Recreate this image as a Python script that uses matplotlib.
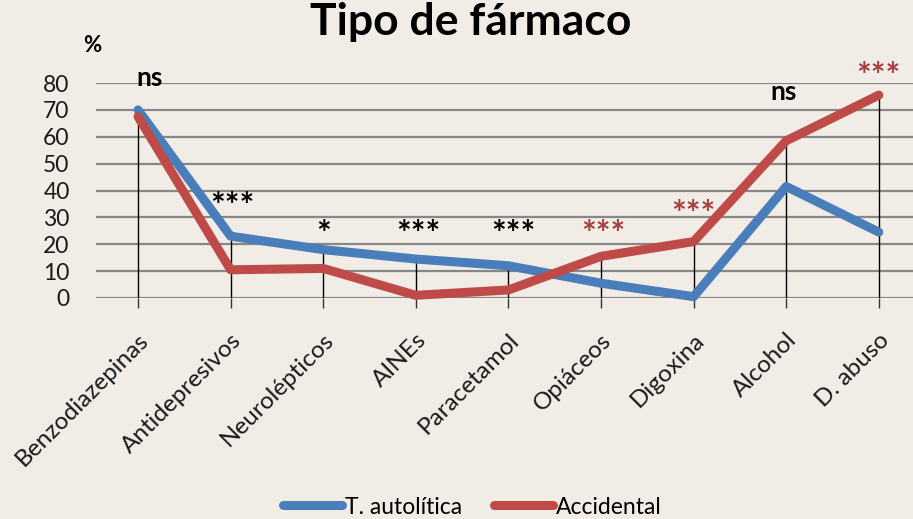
import matplotlib
matplotlib.use("Agg")
import matplotlib.pyplot as plt
import matplotlib.transforms as mtransforms
from matplotlib.lines import Line2D
import numpy as np

plt.rcParams['font.family'] = ['Lato', 'DejaVu Sans']

categories = ["Benzodiazepinas", "Antidepresivos", "Neurolépticos", "AINEs",
              "Paracetamol", "Opiáceos", "Digoxina", "Alcohol", "D. abuso"]
autolitica = [70, 23, 18, 14.5, 12, 5.5, 0.5, 41.5, 24.5]
accidental = [67.5, 10.5, 11, 1, 3, 15.5, 21, 58.5, 75.5]
signif = ["ns", "***", "*", "***", "***", "***", "***", "ns", "***"]
signif_red = [False, False, False, False, False, True, True, False, True]
yticks = [0, 10, 20, 30, 40, 50, 60, 70, 80]

BG = '#f1ede6'
BLUE = '#4a7ebb'
RED = '#be4b48'
DARKRED = '#a33e3c'

W, H = 913, 519
fig = plt.figure(figsize=(W / 100, H / 100), dpi=100, facecolor=BG)

# axes placement from pixels
x_left, x_right = 96, 913
y_top, y_bot = 83, 298
ax = fig.add_axes([x_left / W, 1 - y_bot / H, (x_right - x_left) / W, (y_bot - y_top) / H])
ax.set_facecolor(BG)

n = len(categories)
x = np.arange(n)
ax.set_xlim(-0.4536, 8.369)
ax.set_ylim(0, 80)

for sp in ax.spines.values():
    sp.set_visible(False)

ax.set_yticks(yticks)
ax.yaxis.grid(True, color='#878787', linewidth=1.6)
ax.set_axisbelow(True)
ax.tick_params(axis='y', length=0, pad=19, labelsize=16.5, labelcolor='#1a1a1a')

# drop lines
tops = np.maximum(autolitica, accidental)
ax.vlines(x, 0, tops, colors='black', linewidth=1.0, zorder=2)

ax.set_xticks(x)
ax.set_xticklabels(categories, rotation=45, ha='right', va='center',
                   rotation_mode='anchor', fontsize=17.5, color='#1a1a1a')
ax.tick_params(axis='x', length=7, width=1.0, color='#333333', pad=21)
offset = mtransforms.ScaledTranslation(7 / 100, 0, fig.dpi_scale_trans)
for lab in ax.get_xticklabels():
    lab.set_transform(lab.get_transform() + offset)

ax.plot(x, autolitica, color=BLUE, linewidth=6.5, solid_joinstyle='round',
        solid_capstyle='round', zorder=3, clip_on=False)
ax.plot(x, accidental, color=RED, linewidth=6.5, solid_joinstyle='round',
        solid_capstyle='round', zorder=4, clip_on=False)

# significance labels
sig_y = [82, 37, 26.5, 26.5, 26.5, 26.5, 34, 76.5, 85.5]
sig_dx = [0.12, 0.02, 0.0, 0.03, 0.05, 0.03, 0.0, -0.03, 0.0]
for i, (s, red) in enumerate(zip(signif, signif_red)):
    if s == 'ns':
        ax.text(x[i] + sig_dx[i], sig_y[i], s, ha='center', va='center',
                fontsize=19, fontweight='bold', color='black', clip_on=False)
    else:
        ax.text(x[i] + sig_dx[i], sig_y[i] - 3.2, s, ha='center', va='center',
                fontsize=25, fontweight='bold',
                color=DARKRED if red else 'black', clip_on=False)

fig.text(471 / W, 1 - 22 / H, "Tipo de fármaco", ha='center', va='center',
         fontsize=32, fontweight='bold', color='black')
fig.text(92 / W, 1 - 45 / H, "%", ha='center', va='center',
         fontsize=16, fontweight='bold', color='black')

handles = [Line2D([0], [0], color=BLUE, linewidth=6.5, solid_capstyle='round'),
           Line2D([0], [0], color=RED, linewidth=6.5, solid_capstyle='round')]
fig.legend(handles, ["T. autolítica", "Accidental"], loc='center',
           bbox_to_anchor=(472 / W, 1 - 507 / H), ncol=2, frameon=False,
           fontsize=16.5, handlelength=2.6, handletextpad=0.1, columnspacing=1.4)

fig.savefig("out.png", dpi=100, facecolor=BG)
